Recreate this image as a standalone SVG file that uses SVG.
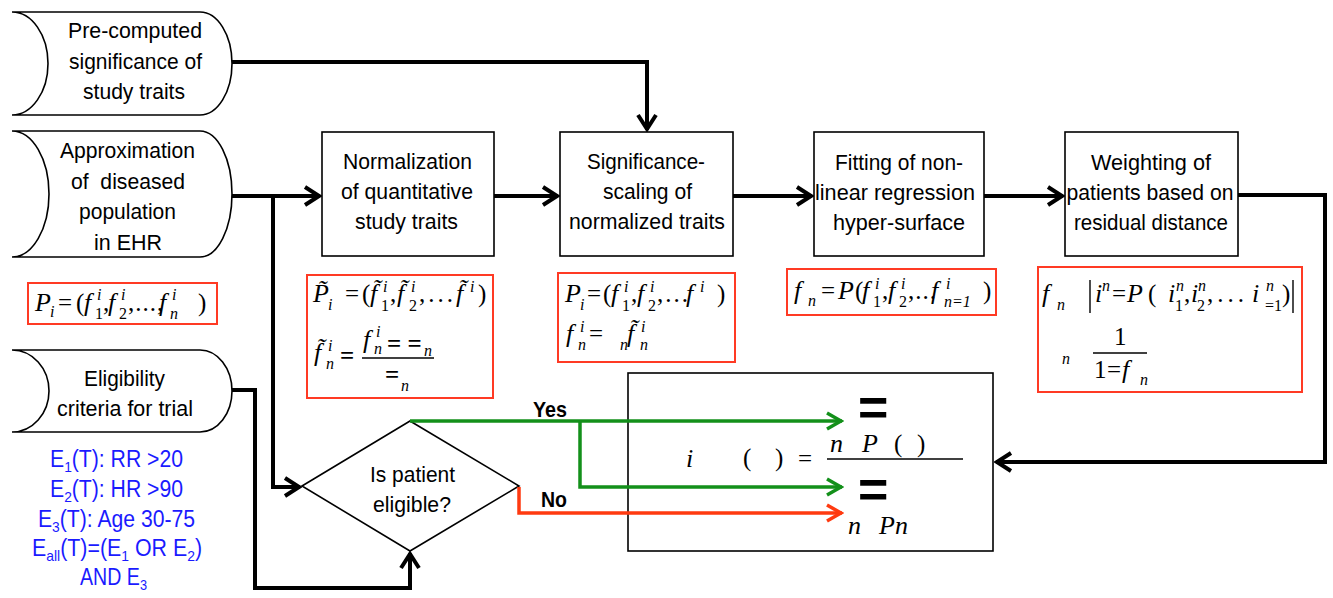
<svg xmlns="http://www.w3.org/2000/svg" width="1333" height="598" viewBox="0 0 1333 598">
<style>
.lbl{font-family:"Liberation Sans",Arial,sans-serif;font-size:22.5px;fill:#000;text-anchor:middle}
.blue{font-family:"Liberation Sans",Arial,sans-serif;font-size:23px;fill:#1a1aff;text-anchor:middle}
.bold{font-family:"Liberation Sans",Arial,sans-serif;font-size:22px;font-weight:bold;fill:#000;text-anchor:middle}
.mi{font-family:"Liberation Serif","Times New Roman",serif;font-style:italic;font-size:26px;fill:#000}
.mn{font-family:"Liberation Serif","Times New Roman",serif;font-size:25px;fill:#000}
.si{font-family:"Liberation Serif","Times New Roman",serif;font-style:italic;font-size:16px;fill:#000}
.sn{font-family:"Liberation Serif","Times New Roman",serif;font-size:16px;fill:#000}
.heq{font-family:"Liberation Sans",Arial,sans-serif;font-weight:bold;font-size:52px;fill:#000}
.shape{fill:#fff;stroke:#000;stroke-width:1.6}
.fbox{fill:none;stroke:#ff3a24;stroke-width:2}
.conn{fill:none;stroke:#000;stroke-width:4;stroke-linejoin:miter}
.g{fill:none;stroke:#13901a;stroke-width:3.5}
.r{fill:none;stroke:#ff3a10;stroke-width:3.5}
</style>
<defs>
<marker id="ab" viewBox="-18 -11 20 22" refX="0" refY="0" markerWidth="20" markerHeight="22" markerUnits="userSpaceOnUse" orient="auto"><path d="M-15,-9 L-1,0 L-15,9" fill="none" stroke="#000" stroke-width="4"/></marker>
<marker id="ag" viewBox="-18 -11 20 22" refX="0" refY="0" markerWidth="20" markerHeight="22" markerUnits="userSpaceOnUse" orient="auto"><path d="M-15,-8 L-1,0 L-15,8" fill="none" stroke="#13901a" stroke-width="3.5"/></marker>
<marker id="ar" viewBox="-18 -11 20 22" refX="0" refY="0" markerWidth="20" markerHeight="22" markerUnits="userSpaceOnUse" orient="auto"><path d="M-15,-8 L-1,0 L-15,8" fill="none" stroke="#ff3a10" stroke-width="3.5"/></marker>
</defs>
<rect width="1333" height="598" fill="#fff"/>

<g id="precomputed">
<path class="shape" d="M12,12 H200 A32,51.5 0 0 1 200,115 H12 A36,51.5 0 0 0 12,12 Z"/>
<text class="lbl" x="135" y="38" textLength="134" lengthAdjust="spacingAndGlyphs">Pre-computed</text>
<text class="lbl" x="135.5" y="69" textLength="133" lengthAdjust="spacingAndGlyphs">significance of</text>
<text class="lbl" x="134" y="99" textLength="102" lengthAdjust="spacingAndGlyphs">study traits</text>
</g>

<g id="approximation">
<path class="shape" d="M12,131 H200 A32,63 0 0 1 200,257 H12 A37,63 0 0 0 12,131 Z"/>
<text class="lbl" x="127.5" y="158" textLength="135" lengthAdjust="spacingAndGlyphs">Approximation</text>
<text class="lbl" x="128" y="189" xml:space="preserve" textLength="114" lengthAdjust="spacingAndGlyphs">of  diseased</text>
<text class="lbl" x="127.5" y="219" textLength="97" lengthAdjust="spacingAndGlyphs">population</text>
<text class="lbl" x="128" y="250" textLength="68" lengthAdjust="spacingAndGlyphs">in EHR</text>
</g>

<g id="eligibility">
<path class="shape" d="M12,350 H200 A32,41 0 0 1 200,432 H12 A37,41 0 0 0 12,350 Z"/>
<text class="lbl" x="124.5" y="386" textLength="81" lengthAdjust="spacingAndGlyphs">Eligibility</text>
<text class="lbl" x="125" y="416" textLength="136" lengthAdjust="spacingAndGlyphs">criteria for trial</text>
</g>

<g id="criteria">
<text class="blue" x="116.5" y="467" textLength="133" lengthAdjust="spacingAndGlyphs">E<tspan font-size="15" dy="5">1</tspan><tspan dy="-5">(T): RR &gt;20</tspan></text>
<text class="blue" x="116.5" y="497" textLength="133" lengthAdjust="spacingAndGlyphs">E<tspan font-size="15" dy="5">2</tspan><tspan dy="-5">(T): HR &gt;90</tspan></text>
<text class="blue" x="116.5" y="527" textLength="157" lengthAdjust="spacingAndGlyphs">E<tspan font-size="15" dy="5">3</tspan><tspan dy="-5">(T): Age 30-75</tspan></text>
<text class="blue" x="117" y="556" textLength="170" lengthAdjust="spacingAndGlyphs">E<tspan font-size="15" dy="5">all</tspan><tspan dy="-5">(T)=(E</tspan><tspan font-size="15" dy="5">1</tspan><tspan dy="-5"> OR E</tspan><tspan font-size="15" dy="5">2</tspan><tspan dy="-5">)</tspan></text>
<text class="blue" x="113.5" y="585" textLength="67" lengthAdjust="spacingAndGlyphs">AND E<tspan font-size="15" dy="5">3</tspan></text>
</g>

<g id="formulaA">
<rect class="fbox" x="28" y="283" width="189" height="41"/>
<text class="mi" x="35" y="311">P</text>
<text class="si" x="50" y="317">i</text>
<text class="mn" x="58" y="311">=</text>
<text class="mn" x="76" y="311">(</text>
<text class="mi" x="84" y="311">f</text>
<text class="si" x="97" y="300">i</text>
<text class="sn" x="95" y="319">1</text>
<text class="mn" x="103" y="311">,</text>
<text class="mi" x="108" y="311">f</text>
<text class="si" x="121" y="300">i</text>
<text class="sn" x="119" y="319">2</text>
<text class="mn" x="128" y="311" letter-spacing="1">,...,</text>
<text class="mi" x="159" y="311">f</text>
<text class="si" x="172" y="300">i</text>
<text class="si" x="170" y="319">n</text>
<text class="mn" x="198" y="311">)</text>
</g>

<g id="normalization">
<rect class="shape" x="322" y="132" width="172" height="124"/>
<text class="lbl" x="407.5" y="169" textLength="129" lengthAdjust="spacingAndGlyphs">Normalization</text>
<text class="lbl" x="407" y="199" textLength="132" lengthAdjust="spacingAndGlyphs">of quantitative</text>
<text class="lbl" x="406.5" y="229" textLength="103" lengthAdjust="spacingAndGlyphs">study traits</text>
</g>

<g id="formulaB">
<rect class="fbox" x="307" y="275" width="186" height="123"/>
<text class="mi" x="313" y="302">P̃</text>
<text class="si" x="328" y="310">i</text>
<text class="mn" x="345" y="302">=</text>
<text class="mn" x="362" y="302">(</text>
<text class="mi" x="370" y="302">f̃</text>
<text class="si" x="383" y="292">i</text>
<text class="sn" x="381" y="311">1</text>
<text class="mn" x="390" y="302">,</text>
<text class="mi" x="397" y="302">f̃</text>
<text class="si" x="411" y="292">i</text>
<text class="sn" x="409" y="311">2</text>
<text class="mn" x="419" y="302" letter-spacing="3">,...</text>
<text class="mi" x="456" y="302">f̃</text>
<text class="si" x="470" y="292">i</text>
<text class="mn" x="478" y="302">)</text>
<text class="mi" x="314" y="361">f̃</text>
<text class="si" x="328" y="351">i</text>
<text class="si" x="326" y="369">n</text>
<text class="mn" x="340" y="364" font-weight="bold">=</text>
<text class="mi" x="363" y="348">f</text>
<text class="si" x="376" y="337">i</text>
<text class="si" x="374" y="354">n</text>
<text class="mn" x="387" y="352" font-weight="bold">= =</text>
<text class="si" x="424" y="356">n</text>
<line x1="362" y1="358" x2="434" y2="358" stroke="#000" stroke-width="1.3"/>
<text class="mn" x="385" y="383" font-weight="bold">=</text>
<text class="si" x="401" y="391">n</text>
</g>

<g id="significance">
<rect class="shape" x="560" y="132" width="173" height="124"/>
<text class="lbl" x="646" y="169" textLength="118" lengthAdjust="spacingAndGlyphs">Significance-</text>
<text class="lbl" x="647.5" y="199" textLength="89" lengthAdjust="spacingAndGlyphs">scaling of</text>
<text class="lbl" x="647" y="229" textLength="156" lengthAdjust="spacingAndGlyphs">normalized traits</text>
</g>

<g id="formulaC">
<rect class="fbox" x="558" y="273" width="177" height="89"/>
<text class="mi" x="565" y="302">P</text>
<text class="si" x="580" y="310">i</text>
<text class="mn" x="587" y="302">=</text>
<text class="mn" x="603" y="302">(</text>
<text class="mi" x="611" y="302">f</text>
<text class="si" x="624" y="292">i</text>
<text class="sn" x="622" y="311">1</text>
<text class="mn" x="631" y="302">,</text>
<text class="mi" x="637" y="302">f</text>
<text class="si" x="650" y="292">i</text>
<text class="sn" x="648" y="311">2</text>
<text class="mn" x="657" y="302" letter-spacing="2">,...</text>
<text class="mi" x="686" y="302">f</text>
<text class="si" x="700" y="292">i</text>
<text class="mn" x="717" y="302">)</text>
<text class="mi" x="566" y="342">f</text>
<text class="si" x="580" y="332">i</text>
<text class="si" x="578" y="350">n</text>
<text class="mn" x="589" y="342">=</text>
<text class="si" x="620" y="350">n</text>
<text class="mi" x="627" y="342">f̃</text>
<text class="si" x="641" y="332">i</text>
<text class="si" x="640" y="350">n</text>
</g>

<g id="fitting">
<rect class="shape" x="814" y="132" width="170" height="124"/>
<text class="lbl" x="899" y="170" textLength="128" lengthAdjust="spacingAndGlyphs">Fitting of non-</text>
<text class="lbl" x="895" y="200" textLength="160" lengthAdjust="spacingAndGlyphs">linear regression</text>
<text class="lbl" x="899" y="230" textLength="132" lengthAdjust="spacingAndGlyphs">hyper-surface</text>
</g>

<g id="formulaD">
<rect class="fbox" x="787" y="269" width="209" height="46"/>
<text class="mi" x="794" y="299">f</text>
<text class="si" x="808" y="306">n</text>
<text class="mn" x="821" y="299">=</text>
<text class="mi" x="838" y="299">P</text>
<text class="mn" x="855" y="299">(</text>
<text class="mi" x="862" y="299">f</text>
<text class="si" x="875" y="289">i</text>
<text class="sn" x="873" y="307">1</text>
<text class="mn" x="882" y="299">,</text>
<text class="mi" x="888" y="299">f</text>
<text class="si" x="901" y="289">i</text>
<text class="sn" x="899" y="307">2</text>
<text class="mn" x="908" y="299" letter-spacing="1">,...</text>
<text class="mi" x="931" y="299">f</text>
<text class="si" x="946" y="289">i</text>
<text class="si" x="944" y="307">n<tspan class="sn">=1</tspan></text>
<text class="mn" x="983" y="299">)</text>
</g>

<g id="weighting">
<rect class="shape" x="1065" y="132" width="173" height="124"/>
<text class="lbl" x="1151" y="170" textLength="120" lengthAdjust="spacingAndGlyphs">Weighting of</text>
<text class="lbl" x="1150" y="200" textLength="167" lengthAdjust="spacingAndGlyphs">patients based on</text>
<text class="lbl" x="1151" y="230" textLength="154" lengthAdjust="spacingAndGlyphs">residual distance</text>
</g>

<g id="formulaE">
<rect class="fbox" x="1038" y="267" width="264" height="125"/>
<text class="mi" x="1042" y="302">f</text>
<text class="si" x="1057" y="310">n</text>
<line x1="1090" y1="280" x2="1090" y2="313" stroke="#000" stroke-width="1.4"/>
<text class="mi" x="1095" y="302">i</text>
<text class="si" x="1102" y="291">n</text>
<text class="mn" x="1112" y="302">=</text>
<text class="mi" x="1127" y="302">P</text>
<text class="mn" x="1148" y="302">(</text>
<text class="mi" x="1168" y="302">i</text>
<text class="si" x="1176" y="291">n</text>
<text class="sn" x="1175" y="311">1</text>
<text class="mn" x="1184" y="302">,</text>
<text class="mi" x="1191" y="302">i</text>
<text class="si" x="1198" y="291">n</text>
<text class="sn" x="1197" y="311">2</text>
<text class="mn" x="1207" y="302" letter-spacing="4">,...</text>
<text class="mi" x="1252" y="302">i</text>
<text class="si" x="1266" y="291">n</text>
<text class="sn" x="1265" y="311">=1</text>
<text class="mn" x="1282" y="302">)</text>
<line x1="1293" y1="280" x2="1293" y2="313" stroke="#000" stroke-width="1.4"/>
<text class="si" x="1062" y="364">n</text>
<text class="mn" x="1114" y="345">1</text>
<line x1="1093" y1="353" x2="1147" y2="353" stroke="#000" stroke-width="1.3"/>
<text class="mn" x="1094" y="378">1</text>
<text class="mn" x="1107" y="378">=</text>
<text class="mi" x="1122" y="378">f</text>
<text class="si" x="1140" y="385">n</text>
</g>

<g id="decision">
<path class="shape" d="M302,486 L410,421 L519,486 L410,551 Z"/>
<text class="lbl" x="412.5" y="482" textLength="85" lengthAdjust="spacingAndGlyphs">Is patient</text>
<text class="lbl" x="412" y="512" textLength="78" lengthAdjust="spacingAndGlyphs">eligible?</text>
</g>

<g id="output">
<rect class="shape" x="628" y="373" width="365" height="178"/>
<text class="mi" x="686" y="467" font-size="42">i</text>
<text class="mn" x="743" y="466" font-size="38">(</text>
<text class="mn" x="775" y="466" font-size="38">)</text>
<text class="mn" x="798" y="467" font-size="32">=</text>
<line x1="827" y1="459" x2="963" y2="459" stroke="#000" stroke-width="1.6"/>
<text class="mi" x="830" y="452" font-size="21">n</text>
<text class="mi" x="862" y="452" font-size="21">P</text>
<text class="mn" x="894" y="452" font-size="21">(</text>
<text class="mn" x="917" y="452" font-size="21">)</text>
<text class="heq" x="858" y="425">=</text>
<text class="heq" x="858" y="507">=</text>
<text class="mi" x="848" y="534" font-size="21">n</text>
<text class="mi" x="879" y="534" font-size="21">Pn</text>
</g>

<g id="connectors">
<path class="conn" d="M232,62 H647 V130" marker-end="url(#ab)"/>
<path class="conn" d="M232,196 H320" marker-end="url(#ab)"/>
<path class="conn" d="M273,196 V487 H300" marker-end="url(#ab)"/>
<path class="conn" d="M494,196 H558" marker-end="url(#ab)"/>
<path class="conn" d="M733,196 H812" marker-end="url(#ab)"/>
<path class="conn" d="M984,196 H1063" marker-end="url(#ab)"/>
<path class="conn" d="M1238,195 H1325 V462 H996" marker-end="url(#ab)"/>
<path class="conn" d="M232,390 H255 V588 H410 V553" marker-end="url(#ab)"/>
<path class="g" d="M410,421 H842" marker-end="url(#ag)"/>
<path class="g" d="M580,421 V487 H842" marker-end="url(#ag)"/>
<path class="r" d="M519,487 V513 H842" marker-end="url(#ar)"/>
<text class="bold" x="550" y="417" textLength="34" lengthAdjust="spacingAndGlyphs">Yes</text>
<text class="bold" x="554" y="507" textLength="26" lengthAdjust="spacingAndGlyphs">No</text>
</g>
</svg>
